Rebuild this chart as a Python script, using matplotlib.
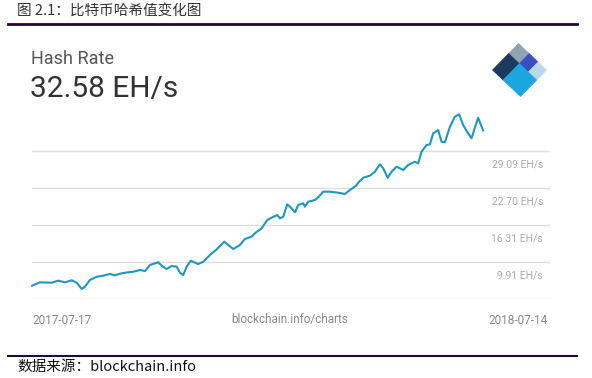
import numpy as np
import matplotlib
matplotlib.use('Agg')
import matplotlib.pyplot as plt
from matplotlib.patches import Polygon

# days since 2017-07-17, hash rate in EH/s
days = [0, 6.4, 15.8, 21.1, 26.4, 31.8, 35.8, 39.8, 42.4, 46.4, 51.8, 57.1, 62.4, 66.5,
        71.8, 77.1, 81.1, 86.5, 90.5, 94.5, 101.1, 103.8, 107.8, 111.8, 115.9, 118.5,
        121.1, 123.9, 127.1, 130.5, 133.1, 137.2, 142.5, 147.9, 154.0, 157.2, 161.2,
        166.5, 170.5, 175.9, 178.5, 183.9, 188.4, 191.9, 196.4, 198.6, 201.2, 204.4,
        207.9, 210.6, 213.2, 217.2, 218.6, 221.2, 226.6, 229.2, 233.2, 238.6, 245.2,
        250.6, 254.6, 259.2, 261.3, 265.3, 270.6, 274.6, 278.6, 281.3, 284.8, 288.0,
        292.0, 297.3, 301.3, 306.6, 309.3, 312.0, 316.0, 318.7, 321.3, 325.3, 328.0,
        330.7, 334.7, 338.7, 342.1, 345.3, 349.3, 352.0, 357.3, 361.3]
hash_rate = [5.77, 6.35, 6.28, 6.63, 6.35, 6.70, 6.28, 5.20, 5.59, 6.75, 7.32, 7.49, 7.79, 7.56,
             7.91, 8.08, 8.18, 8.48, 8.30, 9.34, 9.81, 9.22, 8.65, 9.17, 9.05, 8.01,
             7.61, 9.05, 10.08, 9.74, 9.51, 9.91, 11.07, 12.05, 13.36, 12.79, 12.10,
             12.79, 13.83, 14.23, 14.81, 15.68, 17.11, 17.51, 17.97, 17.40, 17.68, 19.82,
             19.13, 18.44, 19.70, 19.99, 19.41, 20.27, 20.57, 21.03, 22.00, 22.00, 21.83,
             21.60, 22.29, 22.98, 23.55, 24.42, 24.76, 25.45, 26.73, 26.04, 24.42, 25.45,
             26.32, 25.75, 26.61, 27.18, 26.90, 28.91, 30.06, 30.18, 32.08, 32.65, 30.63,
             30.53, 33.22, 34.95, 35.36, 33.52, 32.08, 31.22, 34.78, 32.58]

grid_vals = [3.52, 9.91, 16.31, 22.70, 29.09]
grid_labels = ['', '9.91 EH/s', '16.31 EH/s', '22.70 EH/s', '29.09 EH/s']

W, H = 592, 378
fig = plt.figure(figsize=(W / 100, H / 100), dpi=100)
fig.patch.set_facecolor('white')


def fx(px):
    return px / W


def fy(py):
    return 1 - py / H


# header / footer of the report
fig.text(fx(17), fy(11), '图 2.1：比特币哈希值变化图', family=['Noto Sans CJK SC', 'DejaVu Sans'],
         fontsize=10.5, color='#333333', va='center', ha='left')
fig.add_artist(plt.Line2D([fx(8), fx(577)], [fy(23.5), fy(23.5)], color='#1e0a3c', lw=2))
fig.add_artist(plt.Line2D([fx(8), fx(577)], [fy(355.5), fy(355.5)], color='#1e0a3c', lw=1.5))
fig.text(fx(17), fy(367), '数据来源：blockchain.info', family=['Noto Sans CJK SC', 'DejaVu Sans'],
         fontsize=10.5, color='#111111', va='center', ha='left')

# card texts
fig.text(fx(31), fy(59), 'Hash Rate', family='Roboto', fontsize=13, color='#555555', va='center')
fig.text(fx(30), fy(89), '32.58 EH/s', family='Roboto', fontsize=21.5, color='#333333', va='center')
fig.text(fx(32), fy(320), '2017-07-17', family='Roboto', fontsize=8.5, color='#888888', va='center', ha='left')
fig.text(fx(290), fy(320), 'blockchain.info/charts', family='Roboto', fontsize=8.5, color='#888888',
         va='center', ha='center')
fig.text(fx(548), fy(320), '2018-07-14', family='Roboto', fontsize=8.5, color='#888888', va='center', ha='right')

# chart area
y_top_px, y_bot_px = 110, 298.7
px_per_val = 37 / 6.39
px_per_day = 452 / 362
ax = fig.add_axes([fx(32), fy(y_bot_px), fx(550 - 32), (y_bot_px - y_top_px) / H])
ax.set_xlim(0, (550 - 32) / px_per_day)
ax.set_ylim(grid_vals[0], grid_vals[0] + (y_bot_px - y_top_px) / px_per_val)
ax.set_yticks(grid_vals)
ax.set_xticks([])
ax.tick_params(axis='y', length=0, labelleft=False)
ax.grid(axis='y', color='#dddddd', lw=1)
for s in ax.spines.values():
    s.set_visible(False)
ax.set_facecolor('none')
ax.plot(days, hash_rate, color='#1f97bd', lw=1.5, solid_joinstyle='round', clip_on=False)

for v, lab in zip(grid_vals, grid_labels):
    if lab:
        ax.annotate(lab, xy=(1, v), xycoords=('axes fraction', 'data'), xytext=(-5, -10),
                    textcoords='offset points', ha='right', va='center', fontsize=7.5,
                    family='Roboto', color='#aaaaaa')

# logo: rotated square split into blocks
top = np.array([518.5, 43.5])
left = np.array([492.5, 70.0])
right = np.array([546.5, 70.0])
da = left - top
db = right - top
s = 0.38
blocks = [
    ((0, s), (0, s), '#8ea4b5'),
    ((s, 1), (0, s), '#1b3a5e'),
    ((0, s), (s, 0.7), '#3a4fc2'),
    ((0, s), (0.7, 1), '#b9d9e8'),
    ((s, 1), (s, 1), '#1ba6e0'),
]
for (a0, a1), (b0, b1), col in blocks:
    pts = []
    for a, b in [(a0, b0), (a1, b0), (a1, b1), (a0, b1)]:
        p = top + a * da + b * db
        pts.append((fx(p[0]), fy(p[1])))
    fig.add_artist(Polygon(pts, closed=True, facecolor=col, edgecolor=col, lw=0.5,
                           transform=fig.transFigure))

fig.savefig('out.png', dpi=100)
